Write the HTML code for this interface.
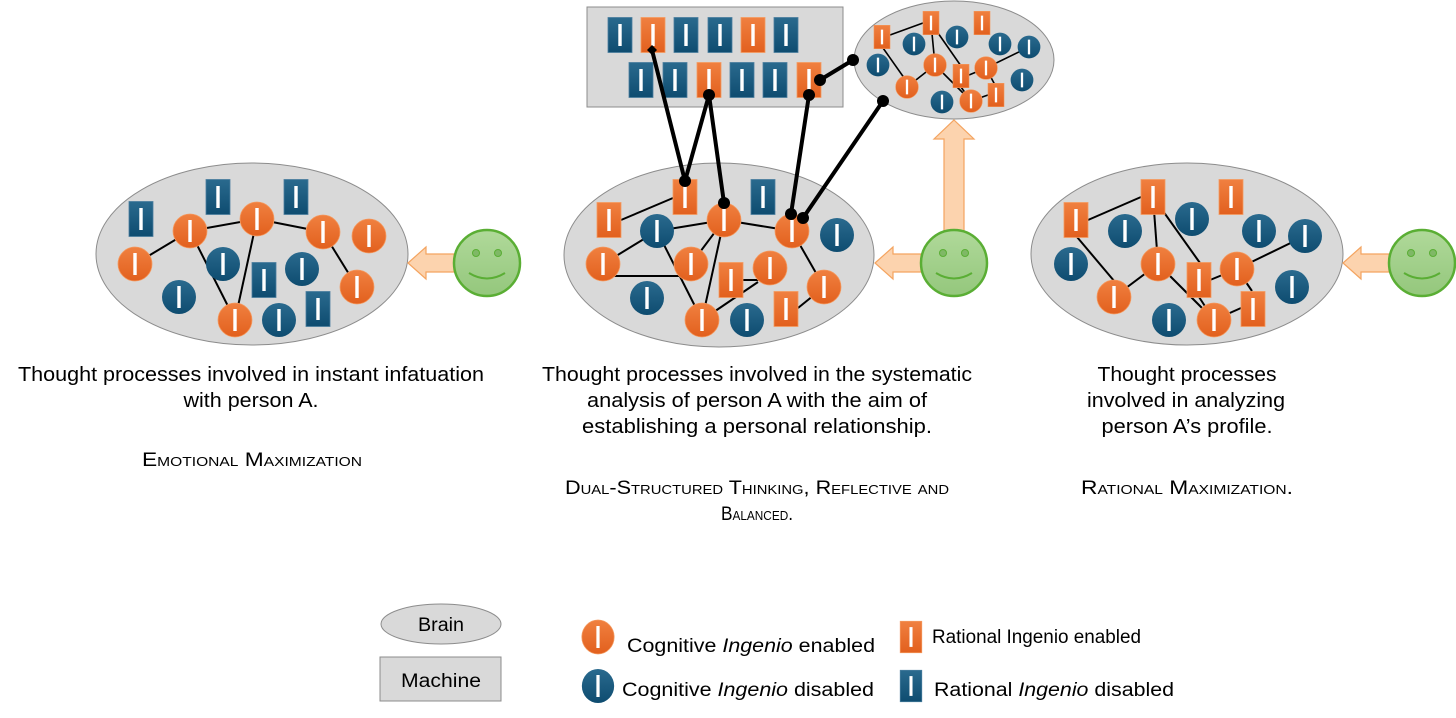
<!DOCTYPE html>
<html><head><meta charset="utf-8"><style>
html,body{margin:0;padding:0;background:#fff;width:1456px;height:718px;overflow:hidden}
svg{display:block}
text{font-family:"Liberation Sans",sans-serif;fill:#000}
.sc{font-variant:small-caps;font-size:19px}
</style></head><body>
<svg width="1456" height="718" viewBox="0 0 1456 718" xmlns="http://www.w3.org/2000/svg">
<defs>
<linearGradient id="go" x1="0" y1="0" x2="0" y2="1"><stop offset="0" stop-color="#F08040"/><stop offset="1" stop-color="#E2601E"/></linearGradient>
<linearGradient id="gb" x1="0" y1="0" x2="0" y2="1"><stop offset="0" stop-color="#2A6A8E"/><stop offset="1" stop-color="#0E4C70"/></linearGradient>
<linearGradient id="gs" x1="0" y1="0" x2="0" y2="1"><stop offset="0" stop-color="#B0D99A"/><stop offset="1" stop-color="#94C77C"/></linearGradient>
<g id="oc"><circle r="17" fill="url(#go)" stroke="#F49A60" stroke-width="0.8"/><rect x="-1.7" y="-11" width="3.4" height="22" fill="#fff"/></g>
<g id="bc"><circle r="17" fill="url(#gb)"/><rect x="-1.7" y="-11" width="3.4" height="22" fill="#fff"/></g>
<g id="or"><rect x="-12" y="-17.5" width="24" height="35" fill="url(#go)" stroke="#F49A60" stroke-width="0.8"/><rect x="-1.7" y="-11" width="3.4" height="22" fill="#fff"/></g>
<g id="br"><rect x="-12" y="-17.5" width="24" height="35" fill="url(#gb)" stroke="#4A7E9E" stroke-width="0.8"/><rect x="-1.7" y="-11" width="3.4" height="22" fill="#fff"/></g>
<g id="smile"><circle r="33" fill="url(#gs)" stroke="#5AAE34" stroke-width="2.5"/><circle cx="-11" cy="-10" r="3.5" fill="#7FB866" stroke="#5AAE34" stroke-width="1"/><circle cx="11" cy="-10" r="3.5" fill="#7FB866" stroke="#5AAE34" stroke-width="1"/><path d="M-18 10 Q0 21 18 10" fill="none" stroke="#5AAE34" stroke-width="2"/></g>
<g id="larr"><path d="M0 0 L18 -16 L18 -9 L46 -9 L46 9 L18 9 L18 16 Z" fill="#FCD3AE" stroke="#F4A460" stroke-width="1.2"/></g>
</defs>

<!-- LEFT -->
<ellipse cx="252" cy="254" rx="156" ry="91" fill="#D9D9D9" stroke="#8C8C8C" stroke-width="1"/>
<g stroke="#000" stroke-width="2">
<line x1="135" y1="264" x2="190" y2="231"/><line x1="190" y1="231" x2="257" y2="219"/><line x1="257" y1="219" x2="323" y2="232"/>
<line x1="190" y1="231" x2="235" y2="320"/><line x1="257" y1="219" x2="235" y2="320"/><line x1="323" y1="232" x2="357" y2="287"/>
</g>
<use href="#br" x="141" y="219"/><use href="#br" x="218" y="197"/><use href="#br" x="296" y="197"/>
<use href="#oc" x="190" y="231"/><use href="#oc" x="257" y="219"/><use href="#oc" x="323" y="232"/><use href="#oc" x="369" y="236"/>
<use href="#oc" x="135" y="264"/><use href="#bc" x="223" y="264"/><use href="#br" x="264" y="280"/><use href="#bc" x="302" y="269"/>
<use href="#bc" x="179" y="297"/><use href="#oc" x="357" y="287"/><use href="#oc" x="235" y="320"/><use href="#bc" x="279" y="320"/><use href="#br" x="318" y="309"/>
<use href="#larr" x="408" y="263"/>
<use href="#smile" x="487" y="263"/>

<!-- MIDDLE -->
<ellipse cx="719" cy="255" rx="155" ry="92" fill="#D9D9D9" stroke="#8C8C8C" stroke-width="1"/>
<g stroke="#000" stroke-width="2">
<line x1="621" y1="220" x2="673" y2="198"/><line x1="657" y1="231" x2="724" y2="220"/><line x1="724" y1="220" x2="792" y2="231"/>
<line x1="603" y1="264" x2="657" y2="231"/><line x1="603" y1="276" x2="680" y2="276"/><line x1="657" y1="231" x2="702" y2="320"/>
<line x1="724" y1="220" x2="691" y2="264"/><line x1="724" y1="220" x2="702" y2="320"/><line x1="743" y1="280" x2="760" y2="280"/>
<line x1="702" y1="320" x2="758" y2="282"/><line x1="792" y1="231" x2="824" y2="287"/><line x1="824" y1="287" x2="798" y2="308"/>
</g>
<use href="#or" x="609" y="220"/><use href="#or" x="685" y="197"/><use href="#br" x="763" y="197"/>
<use href="#bc" x="657" y="231"/><use href="#oc" x="724" y="220"/><use href="#oc" x="792" y="231"/><use href="#bc" x="837" y="235"/>
<use href="#oc" x="603" y="264"/><use href="#oc" x="691" y="264"/><use href="#or" x="731" y="280"/><use href="#oc" x="770" y="268"/>
<use href="#oc" x="824" y="287"/><use href="#bc" x="647" y="298"/><use href="#oc" x="702" y="320"/><use href="#bc" x="747" y="320"/><use href="#or" x="786" y="309"/>

<!-- Machine -->
<rect x="587" y="7" width="256" height="100" fill="#D9D9D9" stroke="#8C8C8C" stroke-width="1"/>
<use href="#br" x="620" y="35"/><use href="#or" x="653" y="35"/><use href="#br" x="686" y="35"/><use href="#br" x="720" y="35"/><use href="#or" x="753" y="35"/><use href="#br" x="786" y="35"/>
<use href="#br" x="641" y="80"/><use href="#br" x="675" y="80"/><use href="#or" x="709" y="80"/><use href="#br" x="742" y="80"/><use href="#br" x="775" y="80"/><use href="#or" x="809" y="80"/>

<!-- Small brain -->
<ellipse cx="954" cy="60" rx="100" ry="59" fill="#D9D9D9" stroke="#8C8C8C" stroke-width="1"/>
<g stroke="#000" stroke-width="1.6">
<line x1="890" y1="35" x2="923" y2="23"/><line x1="883" y1="48" x2="907" y2="82"/><line x1="907" y1="87" x2="935" y2="65"/>
<line x1="931" y1="23" x2="935" y2="65"/><line x1="931" y1="23" x2="961" y2="66"/><line x1="935" y1="65" x2="971" y2="101"/>
<line x1="961" y1="87" x2="971" y2="101"/><line x1="969" y1="75" x2="986" y2="68"/><line x1="986" y1="68" x2="1029" y2="47"/>
<line x1="986" y1="68" x2="995" y2="85"/><line x1="971" y1="101" x2="988" y2="95"/>
</g>
<g transform="translate(882,37) scale(0.67)"><use href="#or"/></g>
<g transform="translate(931,23) scale(0.67)"><use href="#or"/></g>
<g transform="translate(982,23) scale(0.67)"><use href="#or"/></g>
<g transform="translate(914,44) scale(0.67)"><use href="#bc"/></g>
<g transform="translate(957,37) scale(0.67)"><use href="#bc"/></g>
<g transform="translate(1000,44) scale(0.67)"><use href="#bc"/></g>
<g transform="translate(1029,47) scale(0.67)"><use href="#bc"/></g>
<g transform="translate(878,65) scale(0.67)"><use href="#bc"/></g>
<g transform="translate(935,65) scale(0.67)"><use href="#oc"/></g>
<g transform="translate(961,76) scale(0.67)"><use href="#or"/></g>
<g transform="translate(986,68) scale(0.67)"><use href="#oc"/></g>
<g transform="translate(1022,80) scale(0.67)"><use href="#bc"/></g>
<g transform="translate(907,87) scale(0.67)"><use href="#oc"/></g>
<g transform="translate(942,102) scale(0.67)"><use href="#bc"/></g>
<g transform="translate(971,101) scale(0.67)"><use href="#oc"/></g>
<g transform="translate(996,95) scale(0.67)"><use href="#or"/></g>

<!-- thick connectors -->
<g stroke="#000" stroke-width="4" stroke-linecap="round">
<line x1="652" y1="50" x2="685" y2="181"/><line x1="685" y1="181" x2="709" y2="95"/><line x1="709" y1="95" x2="724" y2="203"/>
<line x1="809" y1="95" x2="791" y2="214"/><line x1="820" y1="80" x2="853" y2="60"/><line x1="883" y1="101" x2="803" y2="218"/>
</g>
<g fill="#000">
<path d="M652 45 L657 50 L652 55 L647 50 Z"/>
<circle cx="685" cy="181" r="6"/><circle cx="709" cy="95" r="6"/><circle cx="724" cy="203" r="6"/>
<circle cx="809" cy="95" r="6"/><circle cx="791" cy="214" r="6"/><circle cx="820" cy="80" r="6"/><circle cx="853" cy="60" r="6"/>
<circle cx="883" cy="101" r="6"/><circle cx="803" cy="218" r="6"/>
</g>

<!-- up arrow + middle smiley -->
<path d="M954 120 L974 139 L964 139 L964 232 L944 232 L944 139 L934 139 Z" fill="#FCD3AE" stroke="#F4A460" stroke-width="1.2"/>
<use href="#larr" x="875" y="263"/>
<use href="#smile" x="954" y="263"/>

<!-- RIGHT -->
<ellipse cx="1187" cy="254" rx="156" ry="91" fill="#D9D9D9" stroke="#8C8C8C" stroke-width="1"/>
<g stroke="#000" stroke-width="2">
<line x1="1088" y1="220" x2="1141" y2="197"/><line x1="1077" y1="237" x2="1115" y2="282"/><line x1="1114" y1="297" x2="1158" y2="264"/>
<line x1="1153" y1="197" x2="1158" y2="264"/><line x1="1153" y1="197" x2="1200" y2="263"/><line x1="1158" y1="264" x2="1214" y2="320"/>
<line x1="1210" y1="280" x2="1237" y2="269"/><line x1="1199" y1="297" x2="1214" y2="320"/><line x1="1237" y1="269" x2="1305" y2="236"/>
<line x1="1237" y1="269" x2="1252" y2="291"/><line x1="1214" y1="320" x2="1241" y2="308"/>
</g>
<use href="#or" x="1076" y="220"/><use href="#or" x="1153" y="197"/><use href="#or" x="1231" y="197"/>
<use href="#bc" x="1125" y="231"/><use href="#bc" x="1192" y="219"/><use href="#bc" x="1259" y="231"/><use href="#bc" x="1305" y="236"/>
<use href="#bc" x="1071" y="264"/><use href="#oc" x="1158" y="264"/><use href="#or" x="1199" y="280"/><use href="#oc" x="1237" y="269"/>
<use href="#oc" x="1114" y="297"/><use href="#bc" x="1292" y="287"/><use href="#bc" x="1169" y="320"/><use href="#oc" x="1214" y="320"/><use href="#or" x="1253" y="309"/>
<use href="#larr" x="1343" y="263"/>
<use href="#smile" x="1422" y="263"/>

<!-- captions -->
<g font-size="20" text-anchor="middle">
<text x="251" y="381" textLength="466" lengthAdjust="spacingAndGlyphs">Thought processes involved in instant infatuation</text>
<text x="251" y="407" textLength="135" lengthAdjust="spacingAndGlyphs">with person A.</text>
<text x="757" y="381" textLength="430" lengthAdjust="spacingAndGlyphs">Thought processes involved in the systematic</text>
<text x="757" y="407" textLength="340" lengthAdjust="spacingAndGlyphs">analysis of person A with the aim of</text>
<text x="757" y="433" textLength="350" lengthAdjust="spacingAndGlyphs">establishing a personal relationship.</text>
<text x="1187" y="381" textLength="179" lengthAdjust="spacingAndGlyphs">Thought processes</text>
<text x="1186" y="407" textLength="198" lengthAdjust="spacingAndGlyphs">involved in analyzing</text>
<text x="1187" y="433" textLength="171" lengthAdjust="spacingAndGlyphs">person A’s profile.</text>
</g>
<g text-anchor="middle">
<text class="sc" x="252" y="466" textLength="220" lengthAdjust="spacingAndGlyphs">Emotional Maximization</text>
<text class="sc" x="757" y="494" textLength="384" lengthAdjust="spacingAndGlyphs">Dual-Structured Thinking, Reflective and</text>
<text class="sc" x="757" y="520" textLength="72" lengthAdjust="spacingAndGlyphs">Balanced.</text>
<text class="sc" x="1187" y="494" textLength="212" lengthAdjust="spacingAndGlyphs">Rational Maximization.</text>
</g>

<!-- legend -->
<ellipse cx="441" cy="624" rx="60" ry="20" fill="#D9D9D9" stroke="#8C8C8C" stroke-width="1"/>
<text x="441" y="631" font-size="19" text-anchor="middle" textLength="46" lengthAdjust="spacingAndGlyphs">Brain</text>
<rect x="380" y="657" width="121" height="44" fill="#D9D9D9" stroke="#8C8C8C" stroke-width="1"/>
<text x="441" y="687" font-size="19" text-anchor="middle" textLength="80" lengthAdjust="spacingAndGlyphs">Machine</text>
<g transform="translate(598,637) scale(0.95,1)"><use href="#oc"/></g>
<g transform="translate(598,686) scale(0.95,1)"><use href="#bc"/></g>
<g transform="translate(911,637) scale(0.9,0.9)"><use href="#or"/></g>
<g transform="translate(911,686) scale(0.9,0.9)"><use href="#br"/></g>
<g font-size="19">
<text x="627" y="652" textLength="248" lengthAdjust="spacingAndGlyphs">Cognitive <tspan font-style="italic">Ingenio</tspan> enabled</text>
<text x="622" y="696" textLength="252" lengthAdjust="spacingAndGlyphs">Cognitive <tspan font-style="italic">Ingenio</tspan> disabled</text>
<text x="932" y="643" textLength="209" lengthAdjust="spacingAndGlyphs">Rational Ingenio enabled</text>
<text x="934" y="696" textLength="240" lengthAdjust="spacingAndGlyphs">Rational <tspan font-style="italic">Ingenio</tspan> disabled</text>
</g>
</svg>
</body></html>
